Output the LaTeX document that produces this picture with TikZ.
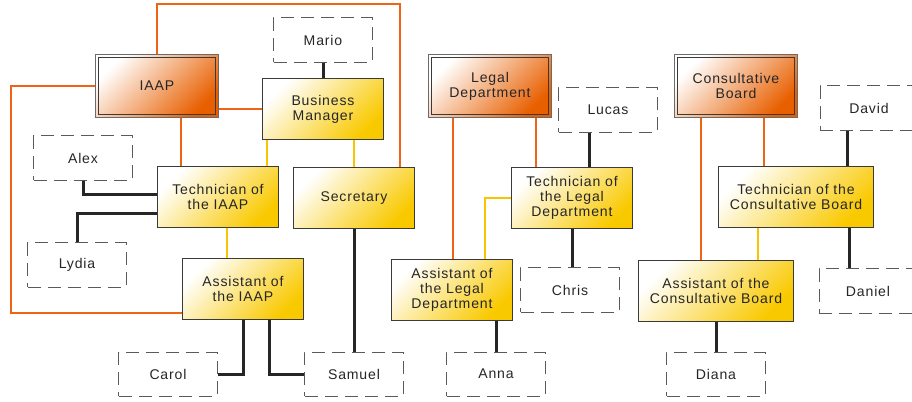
\documentclass[tikz,border=0pt]{standalone}
\usepackage{fontspec}
\setmainfont{Liberation Sans}[LetterSpace=6]
\usepackage{tikz}
\usetikzlibrary{positioning}
\definecolor{deporange}{HTML}{E85F00}
\definecolor{postyellow}{HTML}{F9C900}
\definecolor{linkorange}{HTML}{EE6414}
\definecolor{linkyellow}{HTML}{F7C600}
\definecolor{boxedge}{HTML}{3A3A3A}
\definecolor{dashgray}{HTML}{5A5A5A}
\definecolor{inkgray}{HTML}{262626}
\tikzset{
  dept/.style={draw=boxedge!75, line width=0.025cm, left color=white, right color=deporange,
    shading angle=45, minimum width=3.05cm, minimum height=1.55cm, align=center, text=inkgray},
  post/.style={draw=boxedge, line width=0.025cm, left color=white, right color=postyellow,
    shading angle=45, minimum width=3cm, minimum height=1.5cm, align=center, text=inkgray},
  person/.style={draw=dashgray, line width=0.025cm, dash pattern=on 0.33cm off 0.17cm,
    minimum width=2.45cm, minimum height=1.1cm, text=inkgray},
  orglink/.style={draw=linkorange, line width=0.05cm},
  sublink/.style={draw=linkyellow, line width=0.05cm},
  staff/.style={draw=inkgray, line width=0.075cm},
}

\begin{document}
\begin{tikzpicture}[x=0.025cm, y=-0.025cm, font=\fontsize{10}{10.7}\selectfont]
  \useasboundingbox (0,0) rectangle (912,401);

  % IAAP
  \node[dept] (IAAP) at (157,86) {IAAP};
  \node[person] (Mario) at (323,40) {Mario};
  \node[post] (BM) at (323,109) {Business\\Manager};
  \node[person] (Alex) at (83,158) {Alex};
  \node[post] (TechIAAP) at (218,197) {Technician of\\the IAAP};
  \node[post] (Secretary) at (354,198) {Secretary};
  \node[person] (Lydia) at (77,265) {Lydia};
  \node[post] (AssistIAAP) at (243,289) {Assistant of\\the IAAP};
  \node[person] (Carol) at (168,374) {Carol};
  \node[person] (Samuel) at (354,374) {Samuel};

  % Legal Department
  \node[dept] (Legal) at (490,86) {Legal\\Department};
  \node[person] (Lucas) at (608,110) {Lucas};
  \node[post] (TechLegal) at (572,198) {Technician of\\the Legal\\Department};
  \node[post] (AssistLegal) at (452,290) {Assistant of\\the Legal\\Department};
  \node[person] (Chris) at (570,290) {Chris};
  \node[person] (Anna) at (496,374) {Anna};

  % Consultative Board
  \node[dept] (CB) at (736,86) {Consultative\\Board};
  \node[person] (David) at (869,108) {David};
  \node[post, minimum width=3.85cm] (TechCB) at (796,197) {Technician of the\\Consultative Board};
  \node[post, minimum width=3.85cm] (AssistCB) at (716,291) {Assistant of the\\Consultative Board};
  \node[person] (Daniel) at (868,291) {Daniel};
  \node[person] (Diana) at (716,374) {Diana};

  % inner frames of the departments
  \foreach \d in {IAAP,Legal,CB}
    \draw[boxedge, line width=0.03cm] ([shift={(0.08cm,-0.08cm)}]\d.north west)
      rectangle ([shift={(-0.08cm,0.08cm)}]\d.south east);

  % Links of the IAAP
  \coordinate (ring) at (400,4);
  \coordinate (loop) at (11,313);
  \draw[orglink] (IAAP.north) |- (ring) -- (ring |- Secretary.north);
  \draw[orglink] (IAAP.west) -| (loop) -- (loop -| AssistIAAP.west);
  \draw[orglink] ([xshift=0.6cm]IAAP.south) coordinate (a) -- (a |- TechIAAP.north);
  \draw[orglink] (BM.west) -- (BM.west -| IAAP.east);
  \draw[sublink] ([xshift=-1.4cm]BM.south) coordinate (a) -- (a |- TechIAAP.north);
  \draw[sublink] (Secretary.north) -- (Secretary.north |- BM.south);
  \draw[sublink] ([xshift=0.225cm]TechIAAP.south) coordinate (a) -- (a |- AssistIAAP.north);
  \draw[staff] (Mario.south) -- (BM.north);
  \draw[staff] (Alex.south) |- ([yshift=0.075cm]TechIAAP.west);
  \draw[staff] ([yshift=-0.4cm]TechIAAP.west) -| (Lydia.north);
  \draw[staff] (AssistIAAP.south) |- (Carol.east);
  \draw[staff] ([xshift=0.65cm]AssistIAAP.south) |- (Samuel.west);
  \draw[staff] (Secretary.south) -- (Secretary.south |- Samuel.north);

  % Links of the Legal Department
  \draw[orglink] ([xshift=-0.925cm]Legal.south) coordinate (a) -- (a |- AssistLegal.north);
  \draw[orglink] ([xshift=1.15cm]Legal.south) coordinate (a) -- (a |- TechLegal.north);
  \draw[sublink] (TechLegal.west) -| ([xshift=0.825cm]AssistLegal.north);
  \draw[staff] ([xshift=-0.475cm]Lucas.south) coordinate (a) -- (a |- TechLegal.north);
  \draw[staff] (TechLegal.south) -- (TechLegal.south |- Chris.north);
  \draw[staff] (Anna.north) -- (Anna.north |- AssistLegal.south);

  % Links of the Consultative Board
  \draw[orglink] ([xshift=-0.875cm]CB.south) coordinate (a) -- (a |- AssistCB.north);
  \draw[orglink] ([xshift=0.7cm]CB.south) coordinate (a) -- (a |- TechCB.north);
  \draw[sublink] ([xshift=-0.95cm]TechCB.south) coordinate (a) -- (a |- AssistCB.north);
  \draw[staff] ([xshift=-0.55cm]David.south) coordinate (a) -- (a |- TechCB.north);
  \draw[staff] ([xshift=1.325cm]TechCB.south) coordinate (a) -- (a |- Daniel.north);
  \draw[staff] (AssistCB.south) -- (AssistCB.south |- Diana.north);
\end{tikzpicture}
\end{document}
